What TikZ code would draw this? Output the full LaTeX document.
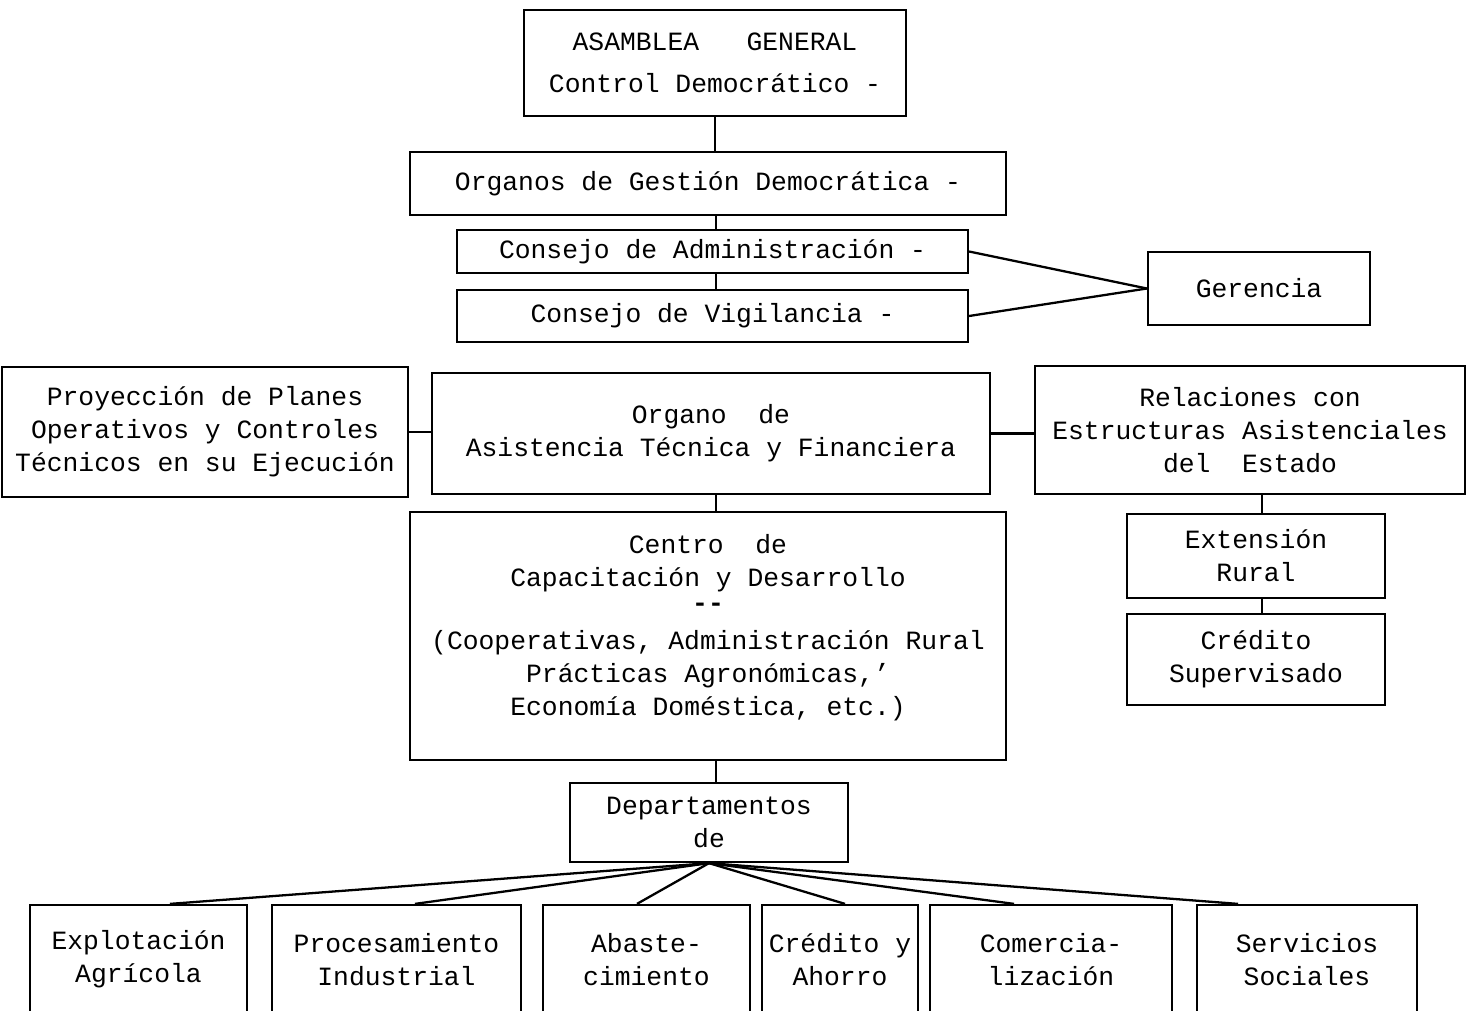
\documentclass[tikz,border=0pt]{standalone}
\usepackage{fontspec}
\setmainfont{Liberation Mono}
\usetikzlibrary{calc}
\tikzset{
  box/.style={draw, line width=1.3pt, inner sep=0pt, align=center,
    font=\fontsize{15}{18.8}\selectfont},
  conn/.style={line width=1.3pt}
}
\begin{document}
\begin{tikzpicture}[x=0.02cm,y=-0.02cm]
\useasboundingbox (0,0) rectangle (1475,1011);
\clip (0,0) rectangle (1475,1011);
% top chain
\node[box, minimum width=7.64cm, minimum height=2.12cm, font=\fontsize{15}{23.8}\selectfont] (asam) at (715,63) {ASAMBLEA~~~GENERAL\\Control Democrático -};
\node[box, minimum width=11.92cm, minimum height=1.26cm] (org) at (708,183.5) {Organos de Gestión Democrática -};
\node[box, minimum width=10.22cm, minimum height=0.86cm] (adm) at (712.5,251.5) {Consejo de Administración -};
\node[box, minimum width=10.22cm, minimum height=1.04cm] (vig) at (712.5,316) {Consejo de Vigilancia -};
\node[box, minimum width=4.44cm, minimum height=1.46cm] (ger) at (1259,288.5) {Gerencia};
% middle row
\node[box, minimum width=8.12cm, minimum height=2.6cm] (proy) at (205,432) {Proyección de Planes\\Operativos y Controles\\Técnicos en su Ejecución};
\node[box, minimum width=11.16cm, minimum height=2.42cm] (asis) at (711,433.5) {Organo~~de\\Asistencia Técnica y Financiera};
\node[box, minimum width=8.6cm, minimum height=2.56cm] (rel) at (1250,430) {Relaciones con\\Estructuras Asistenciales\\del~~Estado};
% centro
\node[box, minimum width=11.92cm, minimum height=4.96cm] (cen) at (708,636) {\raisebox{0.16cm}[\height][\depth]{\begin{tabular}{@{}c@{}}Centro~~de\\Capacitación y Desarrollo\\[-5pt]{\bfseries -{}-}\\[3pt](Cooperativas, Administración Rural\\Prácticas Agronómicas,'\\Economía Doméstica, etc.)\end{tabular}}};
\node[box, minimum width=5.16cm, minimum height=1.68cm] (ext) at (1256,556) {Extensión\\Rural};
\node[box, minimum width=5.16cm, minimum height=1.82cm] (cred) at (1256,659.5) {Crédito\\Supervisado};
% departamentos
\node[box, minimum width=5.56cm, minimum height=1.58cm] (dep) at (709,822.5) {Departamentos\\de};
% bottom row
\node[box, minimum width=4.34cm, minimum height=2.18cm] (expl) at (138.5,959.5) {Explotación\\Agrícola};
\node[box, minimum width=4.98cm, minimum height=2.18cm] (proc) at (396.5,959.5) {Procesamiento\\Industrial};
\node[box, minimum width=4.14cm, minimum height=2.18cm] (abas) at (646.5,959.5) {Abaste-\\cimiento};
\node[box, minimum width=3.12cm, minimum height=2.18cm] (crah) at (840,959.5) {Crédito y\\Ahorro};
\node[box, minimum width=4.84cm, minimum height=2.18cm] (com) at (1051,959.5) {Comercia-\\lización};
\node[box, minimum width=4.4cm, minimum height=2.18cm] (serv) at (1307,959.5) {Servicios\\Sociales};
% connector anchor points
\coordinate (c1) at ($(org.south)+(8,0)$);
\coordinate (c2) at ($(adm.south)+(3.5,0)$);
\coordinate (c3) at ($(asis.south)+(5,0)$);
\coordinate (c4) at ($(rel.south)+(12,0)$);
\coordinate (c5) at ($(ext.south)+(6,0)$);
\coordinate (c6) at ($(cen.south)+(8,0)$);
% connectors
\draw[conn] (asam.south) -- (asam.south |- org.north);
\draw[conn] (c1) -- (c1 |- adm.north);
\draw[conn] (c2) -- (c2 |- vig.north);
\draw[conn] (adm.east) -- (ger.west);
\draw[conn] (vig.east) -- (ger.west);
\draw[conn] (proy.east) -- (proy.east -| asis.west);
\draw[conn] (rel.west |- asis.east) -- (asis.east);
\draw[conn] (c3) -- (c3 |- cen.north);
\draw[conn] (c4) -- (c4 |- ext.north);
\draw[conn] (c5) -- (c5 |- cred.north);
\draw[conn] (c6) -- (c6 |- dep.north);
\draw[conn] (dep.south) -- ([xshift=0.63cm]expl.north);
\draw[conn] (dep.south) -- ([xshift=0.37cm]proc.north);
\draw[conn] (dep.south) -- ([xshift=-0.19cm]abas.north);
\draw[conn] (dep.south) -- ([xshift=0.1cm]crah.north);
\draw[conn] (dep.south) -- ([xshift=-0.74cm]com.north);
\draw[conn] (dep.south) -- ([xshift=-1.38cm]serv.north);
\end{tikzpicture}
\end{document}
